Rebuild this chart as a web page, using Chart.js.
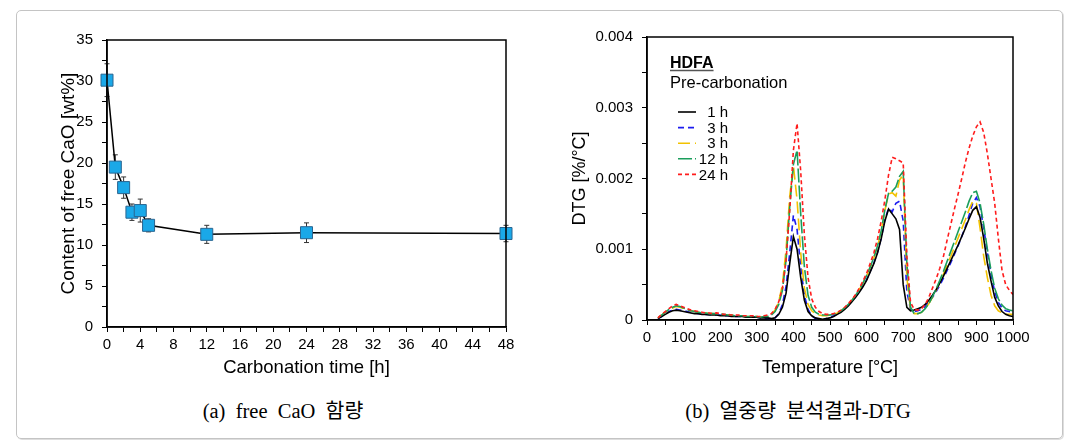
<!DOCTYPE html>
<html>
<head>
<meta charset="utf-8">
<script src="https://cdn.jsdelivr.net/npm/chart.js@4.4.1/dist/chart.umd.min.js"></script>
<style>
  body { margin: 0; background: #fff; width: 1075px; height: 443px; position: relative; overflow: hidden; }
  #frame { position: absolute; left: 16px; top: 10px; width: 1045px; height: 427px; border: 1px solid #c4c4c4; border-radius: 5px; box-shadow: 1px 1px 0 #dedede; }
  canvas { position: absolute; top: 0; }
  #chartA { left: 20px; }
  #chartB { left: 540px; }
  .caption { position: absolute; top: 394px; font-family: "Liberation Serif", "Noto Sans CJK KR", serif; font-size: 20.5px; white-space: pre; transform: translateX(-50%); color: #000; }
</style>
</head>
<body>
<div id="frame"></div>
<canvas id="chartA" width="510" height="385"></canvas>
<canvas id="chartB" width="500" height="385"></canvas>
<div class="caption" style="left:283px">(a)  free  CaO  함량</div>
<div class="caption" style="left:798px">(b)  열중량  분석결과-DTG</div>

<script>
// (a) free CaO content vs carbonation time
const carbonationHours = [0, 1, 2, 3, 4, 5, 12, 24, 48];
const freeCaO = [30.1, 19.5, 17.0, 14.0, 14.2, 12.4, 11.3, 11.5, 11.4];
const freeCaOErr = [2.0, 1.5, 1.3, 1.0, 1.4, 0.8, 1.1, 1.2, 1.0];

// (b) DTG curves, temperature in °C, DTG in %/°C
const temperatures = [
  30, 40, 50, 60, 70, 80, 90, 100, 110, 120,
  130, 140, 150, 160, 170, 180, 190, 200, 210, 220,
  230, 240, 250, 260, 270, 280, 290, 300, 310, 320,
  330, 340, 350, 360, 370, 380, 390, 400, 410, 420,
  430, 440, 450, 460, 470, 480, 490, 500, 510, 520,
  530, 540, 550, 560, 570, 580, 590, 600, 610, 620,
  630, 640, 650, 660, 670, 680, 690, 700, 710, 720,
  730, 740, 750, 760, 770, 780, 790, 800, 810, 820,
  830, 840, 850, 860, 870, 880, 890, 900, 910, 920,
  930, 940, 950, 960, 970, 980, 990, 1000
];
const dtg1h = [
  0.2e-4, 0.5e-4, 0.8e-4, 1.1e-4, 1.3e-4, 1.4e-4, 1.3e-4, 1.2e-4, 1.1e-4, 1.0e-4,
  0.9e-4, 0.9e-4, 0.8e-4, 0.8e-4, 0.7e-4, 0.7e-4, 0.7e-4, 0.6e-4, 0.6e-4, 0.6e-4,
  0.5e-4, 0.5e-4, 0.5e-4, 0.5e-4, 0.4e-4, 0.4e-4, 0.4e-4, 0.4e-4, 0.3e-4, 0.3e-4,
  0.3e-4, 0.2e-4, 0.3e-4, 0.8e-4, 1.8e-4, 3.8e-4, 8.0e-4, 11.8e-4, 10.0e-4, 6.0e-4,
  2.8e-4, 1.2e-4, 0.6e-4, 0.3e-4, 0.2e-4, 0.1e-4, 0.2e-4, 0.3e-4, 0.5e-4, 0.8e-4,
  1.1e-4, 1.5e-4, 2.0e-4, 2.6e-4, 3.2e-4, 3.9e-4, 4.7e-4, 5.6e-4, 6.8e-4, 8.0e-4,
  9.5e-4, 11.5e-4, 14.0e-4, 15.7e-4, 15.0e-4, 14.3e-4, 12.8e-4, 5.0e-4, 1.8e-4, 1.3e-4,
  1.4e-4, 1.6e-4, 1.8e-4, 2.2e-4, 2.8e-4, 3.5e-4, 4.3e-4, 5.2e-4, 6.2e-4, 7.3e-4,
  8.4e-4, 9.5e-4, 10.6e-4, 11.8e-4, 13.0e-4, 14.3e-4, 15.5e-4, 16.0e-4, 14.5e-4, 11.5e-4,
  8.0e-4, 5.5e-4, 3.2e-4, 2.0e-4, 1.2e-4, 0.8e-4, 0.6e-4, 0.5e-4
];
const dtg3hBlue = [
  0.2e-4, 0.5e-4, 0.9e-4, 1.2e-4, 1.4e-4, 1.5e-4, 1.4e-4, 1.3e-4, 1.2e-4, 1.1e-4,
  1.0e-4, 0.9e-4, 0.9e-4, 0.8e-4, 0.8e-4, 0.7e-4, 0.7e-4, 0.7e-4, 0.6e-4, 0.6e-4,
  0.6e-4, 0.5e-4, 0.5e-4, 0.5e-4, 0.5e-4, 0.4e-4, 0.4e-4, 0.4e-4, 0.3e-4, 0.3e-4,
  0.2e-4, 0.1e-4, 0.3e-4, 0.9e-4, 2.2e-4, 4.8e-4, 9.5e-4, 14.8e-4, 12.8e-4, 7.5e-4,
  3.5e-4, 1.5e-4, 0.6e-4, 0.2e-4, 0.0, 0.0, 0.2e-4, 0.4e-4, 0.6e-4, 0.9e-4,
  1.2e-4, 1.6e-4, 2.1e-4, 2.7e-4, 3.3e-4, 4.0e-4, 4.8e-4, 5.7e-4, 6.9e-4, 8.1e-4,
  9.6e-4, 11.6e-4, 14.2e-4, 15.8e-4, 15.3e-4, 16.5e-4, 16.8e-4, 14.0e-4, 4.0e-4, 1.5e-4,
  1.2e-4, 1.3e-4, 1.5e-4, 1.9e-4, 2.5e-4, 3.2e-4, 4.0e-4, 4.9e-4, 5.9e-4, 7.0e-4,
  8.1e-4, 9.3e-4, 10.5e-4, 11.8e-4, 13.2e-4, 14.8e-4, 16.5e-4, 17.3e-4, 16.0e-4, 13.0e-4,
  9.5e-4, 6.5e-4, 4.0e-4, 2.5e-4, 1.7e-4, 1.3e-4, 1.2e-4, 1.1e-4
];
const dtg3hYellow = [
  0.3e-4, 0.7e-4, 1.1e-4, 1.4e-4, 1.7e-4, 1.9e-4, 1.8e-4, 1.6e-4, 1.4e-4, 1.3e-4,
  1.2e-4, 1.1e-4, 1.0e-4, 1.0e-4, 0.9e-4, 0.9e-4, 0.8e-4, 0.8e-4, 0.7e-4, 0.7e-4,
  0.7e-4, 0.6e-4, 0.6e-4, 0.6e-4, 0.5e-4, 0.5e-4, 0.5e-4, 0.5e-4, 0.4e-4, 0.5e-4,
  0.6e-4, 0.8e-4, 1.4e-4, 2.6e-4, 5.0e-4, 10.0e-4, 17.5e-4, 21.8e-4, 17.0e-4, 9.5e-4,
  4.5e-4, 2.2e-4, 1.3e-4, 0.9e-4, 0.7e-4, 0.6e-4, 0.6e-4, 0.7e-4, 0.8e-4, 1.0e-4,
  1.3e-4, 1.7e-4, 2.2e-4, 2.8e-4, 3.5e-4, 4.3e-4, 5.2e-4, 6.2e-4, 7.4e-4, 8.8e-4,
  10.4e-4, 12.5e-4, 15.5e-4, 17.8e-4, 18.0e-4, 17.5e-4, 19.8e-4, 20.5e-4, 6.0e-4, 1.5e-4,
  0.9e-4, 0.9e-4, 1.1e-4, 1.6e-4, 2.3e-4, 3.2e-4, 4.2e-4, 5.3e-4, 6.5e-4, 7.8e-4,
  9.0e-4, 10.3e-4, 11.6e-4, 12.9e-4, 14.2e-4, 15.6e-4, 16.8e-4, 16.5e-4, 13.0e-4, 9.0e-4,
  6.0e-4, 3.5e-4, 2.0e-4, 1.3e-4, 1.0e-4, 0.8e-4, 0.8e-4, 0.8e-4
];
const dtg12h = [
  0.3e-4, 0.7e-4, 1.1e-4, 1.5e-4, 1.8e-4, 2.0e-4, 1.9e-4, 1.7e-4, 1.5e-4, 1.3e-4,
  1.2e-4, 1.1e-4, 1.0e-4, 1.0e-4, 0.9e-4, 0.9e-4, 0.9e-4, 0.8e-4, 0.8e-4, 0.7e-4,
  0.7e-4, 0.6e-4, 0.6e-4, 0.6e-4, 0.5e-4, 0.5e-4, 0.5e-4, 0.5e-4, 0.4e-4, 0.5e-4,
  0.5e-4, 0.7e-4, 1.2e-4, 2.2e-4, 4.2e-4, 8.5e-4, 16.0e-4, 22.0e-4, 24.0e-4, 15.0e-4,
  7.5e-4, 3.5e-4, 1.8e-4, 1.1e-4, 0.8e-4, 0.7e-4, 0.7e-4, 0.7e-4, 0.8e-4, 1.0e-4,
  1.3e-4, 1.7e-4, 2.2e-4, 2.8e-4, 3.5e-4, 4.3e-4, 5.2e-4, 6.3e-4, 7.5e-4, 8.9e-4,
  10.5e-4, 12.6e-4, 15.6e-4, 17.9e-4, 18.2e-4, 18.8e-4, 20.3e-4, 21.0e-4, 8.0e-4, 1.8e-4,
  0.9e-4, 0.9e-4, 1.1e-4, 1.6e-4, 2.3e-4, 3.3e-4, 4.4e-4, 5.6e-4, 6.9e-4, 8.3e-4,
  9.7e-4, 11.1e-4, 12.5e-4, 13.9e-4, 15.3e-4, 16.8e-4, 18.0e-4, 18.2e-4, 16.5e-4, 13.5e-4,
  10.0e-4, 7.0e-4, 4.5e-4, 3.0e-4, 2.1e-4, 1.6e-4, 1.4e-4, 1.3e-4
];
const dtg24h = [
  0.3e-4, 0.8e-4, 1.2e-4, 1.6e-4, 2.0e-4, 2.2e-4, 2.0e-4, 1.8e-4, 1.6e-4, 1.4e-4,
  1.3e-4, 1.2e-4, 1.1e-4, 1.0e-4, 1.0e-4, 0.9e-4, 1.0e-4, 0.9e-4, 0.8e-4, 0.8e-4,
  0.7e-4, 0.7e-4, 0.7e-4, 0.6e-4, 0.6e-4, 0.6e-4, 0.6e-4, 0.5e-4, 0.5e-4, 0.6e-4,
  0.7e-4, 0.9e-4, 1.5e-4, 2.6e-4, 4.5e-4, 8.5e-4, 15.5e-4, 24.0e-4, 27.8e-4, 21.0e-4,
  12.0e-4, 6.0e-4, 3.0e-4, 1.8e-4, 1.2e-4, 0.9e-4, 0.8e-4, 0.8e-4, 0.9e-4, 1.1e-4,
  1.4e-4, 1.8e-4, 2.3e-4, 2.9e-4, 3.6e-4, 4.5e-4, 5.5e-4, 6.6e-4, 8.0e-4, 9.5e-4,
  11.5e-4, 14.0e-4, 17.0e-4, 20.5e-4, 23.0e-4, 22.8e-4, 22.5e-4, 22.2e-4, 9.0e-4, 2.5e-4,
  1.5e-4, 1.4e-4, 1.6e-4, 2.2e-4, 3.2e-4, 4.5e-4, 5.8e-4, 7.3e-4, 9.0e-4, 11.3e-4,
  13.5e-4, 15.7e-4, 17.8e-4, 20.0e-4, 22.3e-4, 24.3e-4, 26.0e-4, 27.3e-4, 28.0e-4, 26.5e-4,
  23.5e-4, 20.0e-4, 16.5e-4, 11.5e-4, 7.0e-4, 5.0e-4, 4.2e-4, 3.6e-4
];
const seriesLabels = ['1 h', '3 h', '3 h', '12 h', '24 h'];

Chart.defaults.font.family = '"Liberation Sans", Arial, sans-serif';
Chart.defaults.color = '#000';
Chart.defaults.animation = false;

// full box around the plot area
const plotBox = {
  id: 'plotBox',
  afterDraw(chart) {
    const { ctx, chartArea: a } = chart;
    ctx.save();
    ctx.strokeStyle = '#000';
    ctx.lineWidth = 1.5;
    ctx.strokeRect(a.left, a.top, a.right - a.left, a.bottom - a.top);
    ctx.restore();
  }
};

// vertical error bars for the free CaO points, drawn under the markers
const errorBars = {
  id: 'errorBars',
  beforeDatasetsDraw(chart) {
    const { ctx, scales: { x, y } } = chart;
    ctx.save();
    ctx.strokeStyle = '#333';
    ctx.lineWidth = 1;
    carbonationHours.forEach((h, i) => {
      const px = x.getPixelForValue(h);
      const hi = y.getPixelForValue(freeCaO[i] + freeCaOErr[i]);
      const lo = y.getPixelForValue(freeCaO[i] - freeCaOErr[i]);
      ctx.beginPath();
      ctx.moveTo(px, hi); ctx.lineTo(px, lo);
      ctx.moveTo(px - 2.5, hi); ctx.lineTo(px + 2.5, hi);
      ctx.moveTo(px - 2.5, lo); ctx.lineTo(px + 2.5, lo);
      ctx.stroke();
    });
    ctx.restore();
  }
};

function axisCommon(extra) {
  return Object.assign({
    type: 'linear',
    grid: { drawOnChartArea: false, tickLength: 5, color: '#000', lineWidth: 1 },
    border: { color: '#000', width: 1.5 }
  }, extra);
}

new Chart(document.getElementById('chartA'), {
  type: 'line',
  data: {
    datasets: [{
      data: carbonationHours.map((h, i) => ({ x: h, y: freeCaO[i] })),
      borderColor: '#000',
      borderWidth: 1.5,
      pointStyle: 'rect',
      pointRadius: 8.5,
      pointBackgroundColor: '#1aa8e8',
      pointBorderColor: '#2a6590',
      pointBorderWidth: 1,
      tension: 0,
      clip: false
    }]
  },
  options: {
    responsive: false,
    layout: { padding: { top: 40, right: 24, left: 0, bottom: 0 } },
    plugins: { legend: { display: false }, tooltip: { enabled: false } },
    scales: {
      x: axisCommon({
        min: 0, max: 48,
        ticks: { stepSize: 2, autoSkip: false, maxRotation: 0, padding: 4, font: { size: 15 },
          callback: v => (v % 4 === 0 ? v : '') },
        title: { display: true, text: 'Carbonation time [h]', font: { size: 18.5 }, padding: { top: 0, bottom: 6 } },
        afterFit: s => { s.height = 58; }
      }),
      y: axisCommon({
        min: 0, max: 35,
        ticks: { stepSize: 2.5, autoSkip: false, padding: 9, font: { size: 15 },
          callback: v => (v % 5 === 0 ? v : '') },
        title: { display: true, text: 'Content of free CaO [wt%]', font: { size: 19 }, padding: { top: 37, bottom: 0 } },
        afterFit: s => { s.width = 87; }
      })
    }
  },
  plugins: [errorBars, plotBox]
});

// legend block drawn inside the DTG plot
const dtgLegend = {
  id: 'dtgLegend',
  afterDraw(chart) {
    const { ctx, chartArea: a } = chart;
    const x0 = a.left + 23;
    ctx.save();
    ctx.fillStyle = '#000';
    ctx.textBaseline = 'alphabetic';
    ctx.font = 'bold 16px "Liberation Sans", Arial, sans-serif';
    ctx.fillText('HDFA', x0, a.top + 31);
    const w = ctx.measureText('HDFA').width;
    ctx.strokeStyle = '#555';
    ctx.lineWidth = 1.5;
    ctx.beginPath();
    ctx.moveTo(x0, a.top + 33.5); ctx.lineTo(x0 + w, a.top + 33.5);
    ctx.stroke();
    ctx.font = '16.5px "Liberation Sans", Arial, sans-serif';
    ctx.fillText('Pre-carbonation', x0, a.top + 51);

    ctx.font = '15px "Liberation Sans", Arial, sans-serif';
    ctx.textAlign = 'right';
    ctx.textBaseline = 'middle';
    chart.data.datasets.forEach((ds, i) => {
      const yy = a.top + 75 + i * 15.6;
      ctx.save();
      ctx.strokeStyle = ds.borderColor;
      ctx.lineWidth = ds.borderWidth;
      ctx.setLineDash(ds.borderDash || []);
      ctx.beginPath();
      ctx.moveTo(a.left + 31, yy); ctx.lineTo(a.left + 49, yy);
      ctx.stroke();
      ctx.restore();
      ctx.fillText(seriesLabels[i], a.left + 81, yy + 1);
    });
    ctx.restore();
  }
};

function dtgSeries(values, color, dash, order) {
  return {
    data: temperatures.map((t, i) => ({ x: t, y: values[i] })),
    borderColor: color,
    borderWidth: 1.6,
    borderDash: dash,
    pointRadius: 0,
    tension: 0,
    order: order
  };
}

new Chart(document.getElementById('chartB'), {
  type: 'line',
  data: {
    datasets: [
      dtgSeries(dtg1h, '#000000', [], 2),
      dtgSeries(dtg3hBlue, '#1c1cf0', [6, 4], 4),
      dtgSeries(dtg3hYellow, '#f2c200', [12, 5], 3),
      dtgSeries(dtg12h, '#1b9e5c', [14, 3], 1),
      dtgSeries(dtg24h, '#ff1c1c', [4, 3], 0)
    ]
  },
  options: {
    responsive: false,
    layout: { padding: { top: 37, right: 27, left: 0, bottom: 0 } },
    plugins: { legend: { display: false }, tooltip: { enabled: false } },
    scales: {
      x: axisCommon({
        min: 0, max: 1000,
        ticks: { stepSize: 50, autoSkip: false, maxRotation: 0, padding: 4, font: { size: 15 },
          callback: v => (v % 100 === 0 ? v : '') },
        title: { display: true, text: 'Temperature [°C]', font: { size: 18 }, padding: { top: 0, bottom: 6 } },
        afterFit: s => { s.height = 65; }
      }),
      y: axisCommon({
        min: 0, max: 0.004,
        ticks: { stepSize: 0.0005, autoSkip: false, padding: 9, font: { size: 15 },
          callback: v => {
            const k = Math.round(v / 0.0005);
            if (k % 2 !== 0) return '';
            return k === 0 ? '0' : (k * 0.0005).toFixed(3);
          } },
        title: { display: true, text: 'DTG [%/°C]', font: { size: 18 }, padding: { top: 29, bottom: 0 } },
        afterFit: s => { s.width = 107; }
      })
    }
  },
  plugins: [dtgLegend, plotBox]
});
</script>
</body>
</html>
